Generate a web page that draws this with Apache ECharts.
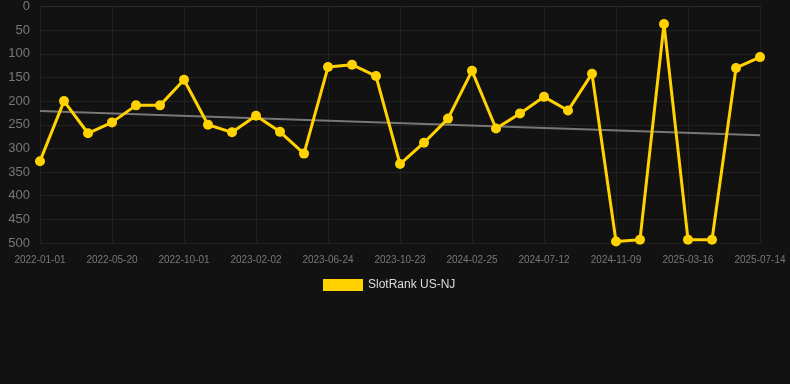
<!DOCTYPE html>
<html><head><meta charset="utf-8">
<script src="https://cdn.jsdelivr.net/npm/echarts@6/dist/echarts.min.js"></script>
<style>html,body{margin:0;padding:0;background:#121212;}#c{width:790px;height:384px;}</style>
</head><body><div id="c"></div>
<script>
const dates = ['2022-01-01','2022-02-16','2022-04-03','2022-05-20','2022-07-05','2022-08-17','2022-10-01','2022-11-11','2022-12-23','2023-02-02','2023-03-25','2023-05-09','2023-06-24','2023-08-13','2023-09-29','2023-10-23','2023-12-07','2024-01-16','2024-02-25','2024-04-10','2024-05-27','2024-07-12','2024-08-22','2024-09-30','2024-11-09','2024-12-20','2025-02-01','2025-03-16','2025-04-27','2025-06-02','2025-07-14'];
const ranks = [327,200,268,245,209,209,155,250,266,231,265,311,128,123,147,333,288,237,136,258,226,191,220,142,497,493,37,493,493,130,107];
const trendStart = 221;
const trendEnd = 272;
const seriesName = 'SlotRank US-NJ';

const chart = echarts.init(document.getElementById('c'));
chart.setOption({
  backgroundColor: '#121212',
  animation: false,
  grid: {left: 40, right: 30, top: 6, bottom: 141, containLabel: false},
  legend: {
    data: [seriesName], top: 274, left: 318,
    itemWidth: 40, itemHeight: 12, icon: 'rect', itemGap: 10,
    textStyle: {color: '#dddddd', fontSize: 12}
  },
  xAxis: {
    type: 'category', data: dates, boundaryGap: false,
    axisLine: {show: true, lineStyle: {color: '#2a2a2a'}},
    axisTick: {show: false},
    axisLabel: {interval: 2, color: '#777777', fontSize: 10, margin: 12},
    splitLine: {show: true, interval: 2, lineStyle: {color: '#222222'}}
  },
  yAxis: {
    type: 'value', inverse: true, min: 0, max: 500, interval: 50,
    axisLine: {show: false}, axisTick: {show: false},
    axisLabel: {color: '#777777', fontSize: 13, margin: 10},
    splitLine: {lineStyle: {color: '#222222'}}
  },
  series: [{
    name: seriesName, type: 'line', data: ranks,
    symbol: 'circle', symbolSize: 10,
    itemStyle: {color: '#FFD200'},
    lineStyle: {color: '#FFD200', width: 3},
    z: 3,
    markLine: {
      silent: true, symbol: ['none','none'], label: {show: false},
      lineStyle: {color: '#777777', width: 2, type: 'solid'},
      data: [[{coord: [dates[0], trendStart]}, {coord: [dates[dates.length-1], trendEnd]}]],
      z: 2
    }
  }]
});
</script></body></html>
